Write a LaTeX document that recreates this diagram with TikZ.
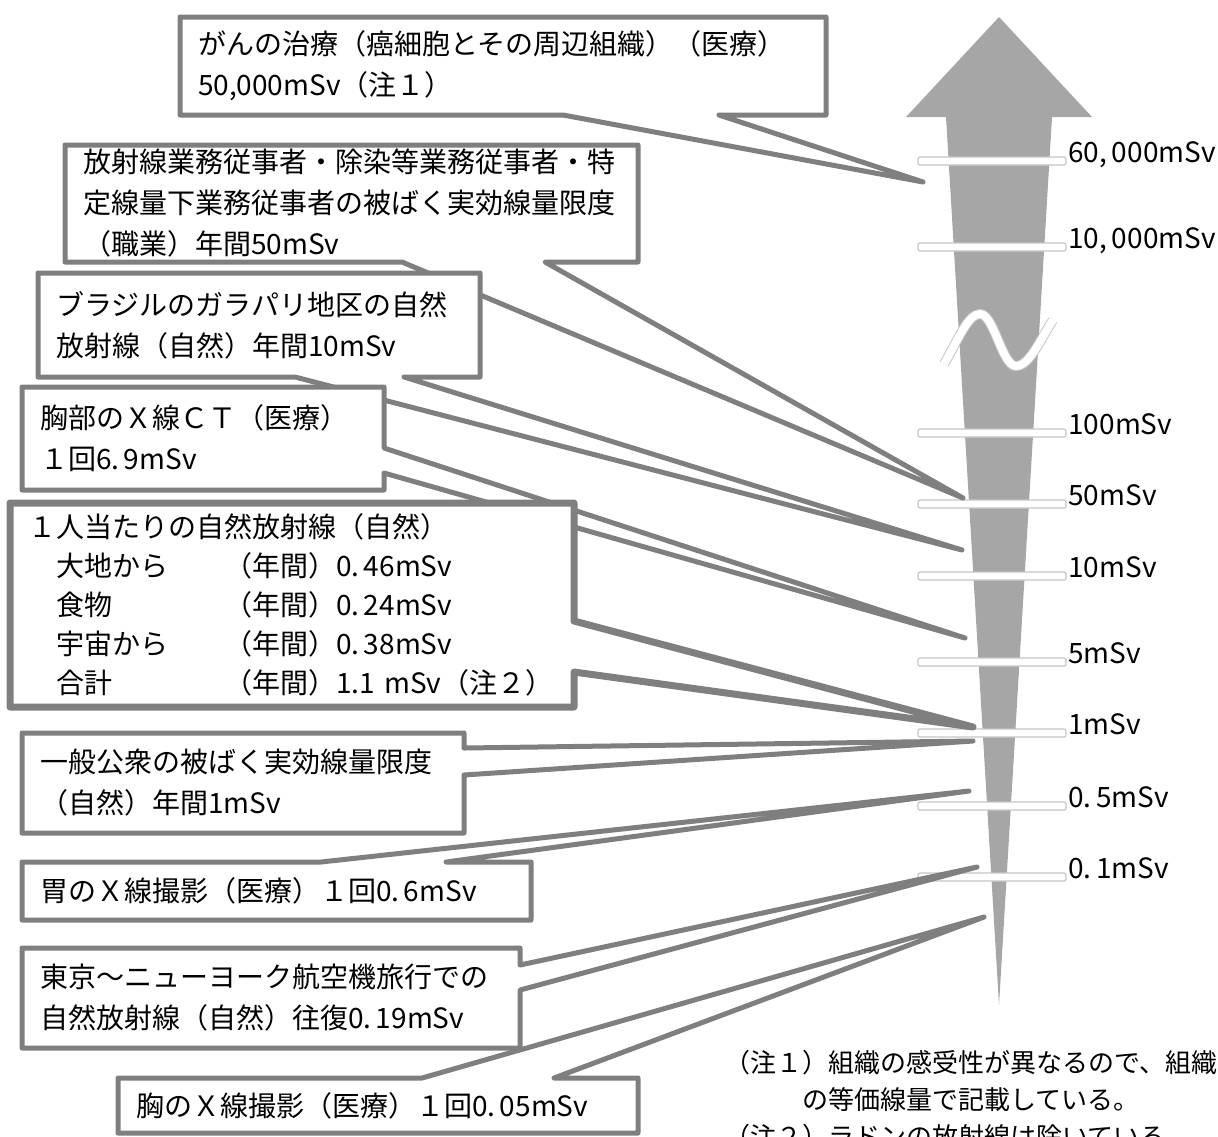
\documentclass[tikz,border=0pt]{standalone}
\usepackage{fontspec}
\setmainfont{Noto Sans CJK JP}
\usetikzlibrary{backgrounds}

\definecolor{linegray}{RGB}{127,127,127}
\definecolor{arrowgray}{RGB}{166,166,166}

\begin{document}
\begin{tikzpicture}[
	x=0.5pt, y=-0.5pt,
	box/.style = {anchor=north west, inner xsep=9pt, inner ysep=0pt,
		outer sep=0pt, align=left,
		font=\fontsize{14pt}{20.5pt}\selectfont},
	callout/.style = {draw=linegray, fill=white, line width=2.5pt,
		line join=round},
	tick/.style = {draw=gray!45, fill=white, line width=0.6pt,
		rounded corners=1pt},
	lbl/.style = {anchor=base west, inner sep=0pt,
		font=\fontsize{14pt}{16pt}\selectfont},
	note/.style = {anchor=north west, inner sep=0pt, align=left,
		font=\fontsize{13pt}{18.5pt}\selectfont},
	]
	\useasboundingbox (0,0) rectangle (1218,1136);
	
	\begin{scope}[on background layer]
	\fill[arrowgray] (999,17) -- (1092,117) -- (1052,117) -- (999,1005)
		-- (946,117) -- (906,117) -- cycle;
	\draw[gray!45, line width=0.5pt, double=white, double distance=4pt]
		(944,364) .. controls (958,340) and (968,314) .. (980,314)
		.. controls (994,314) and (1002,366) .. (1016,366)
		.. controls (1030,366) and (1042,336) .. (1053,320);
	\foreach \y/\t in {161/{60,\,000mSv}, 247/{10,\,000mSv}, 433/100mSv,
		504/50mSv, 576/10mSv, 662/5mSv, 733/1mSv, 806/{0.\,5mSv}, 877/{0.\,1mSv}}
	{
		\draw[tick] (918,\y-4) rectangle (1066,\y+4);
		\node[lbl] (mark-\y) at (1068,\y+1) {\t};
	}
	\end{scope}
	
	\node[box, text width=305pt, minimum height=49pt] (cancer) at (180,17)
		{がんの治療（癌細胞とその周辺組織）（医療）\\50,000mSv（注１）};
	\node[box, text width=268.5pt, minimum height=58.5pt] (worker) at (65,145)
		{放射線業務従事者・除染等業務従事者・特\\定線量下業務従事者の被ばく実効線量限度\\（職業）年間50mSv};
	\node[box, text width=203pt, minimum height=52pt] (brazil) at (38,273)
		{ブラジルのガラパリ地区の自然\\放射線（自然）年間10mSv};
	\node[box, text width=163pt, minimum height=51.5pt] (ct) at (22,387)
		{胸部のＸ線ＣＴ（医療）\\１回6.\,9mSv};
	\node[box, text width=264pt, minimum height=102pt,
		font=\fontsize{14pt}{19.5pt}\selectfont] (natural) at (10,503)
		{１人当たりの自然放射線（自然）\\
		　大地から　　（年間）0.\,46mSv\\
		　食物　　　　（年間）0.\,24mSv\\
		　宇宙から　　（年間）0.\,38mSv\\
		　合計　　　　（年間）1.1 mSv（注２）};
	\node[box, text width=203pt, minimum height=50pt] (public) at (22,733)
		{一般公衆の被ばく実効線量限度\\（自然）年間1mSv};
	\node[box, text width=236.5pt, minimum height=29pt] (stomach) at (22,862)
		{胃のＸ線撮影（医療）１回0.\,6mSv};
	\node[box, text width=231pt, minimum height=50pt] (flight) at (22,948)
		{東京〜ニューヨーク航空機旅行での\\自然放射線（自然）往復0.\,19mSv};
	\node[box, text width=242pt, minimum height=27.5pt] (chest) at (118,1078)
		{胸のＸ線撮影（医療）１回0.\,05mSv};
	
	\coordinate (cancer-tip) at (923,182);
	\coordinate (worker-tip) at (963,498);
	\coordinate (brazil-tip) at (962,550);
	\coordinate (ct-tip) at (965,638);
	\coordinate (natural-tip) at (973,727);
	\coordinate (public-tip) at (973,741);
	\coordinate (stomach-tip) at (969,791);
	\coordinate (flight-tip) at (977,867);
	\coordinate (chest-tip) at (984,917);
	
	\begin{scope}[on background layer]
	\draw[callout] (cancer.north west) -- (cancer.north east) -- (cancer.south east)
		-- (719,0 |- cancer.south) -- (cancer-tip) -- (563,0 |- cancer.south)
		-- (cancer.south west) -- cycle;
	\draw[callout] (worker.north west) -- (worker.north east) -- (worker.south east)
		-- (545,0 |- worker.south) -- (worker-tip) -- (402,0 |- worker.south)
		-- (worker.south west) -- cycle;
	\draw[callout] (brazil.north west) -- (brazil.north east) -- (brazil.south east)
		-- (404,0 |- brazil.south) -- (brazil-tip) -- (295,0 |- brazil.south)
		-- (brazil.south west) -- cycle;
	\draw[callout] (ct.north west) -- (ct.north east) -- (ct.east |- 0,448)
		-- (ct-tip) -- (ct.east |- 0,473) -- (ct.south east)
		-- (ct.south west) -- cycle;
	\draw[callout, line width=3.5pt] (natural.north west) -- (natural.north east)
		-- (natural.east |- 0,621) -- (natural-tip) -- (natural.east |- 0,672)
		-- (natural.south east) -- (natural.south west) -- cycle;
	\draw[callout] (public.north west) -- (public.north east) -- (public.east |- 0,748)
		-- (public-tip) -- (public.east |- 0,775) -- (public.south east)
		-- (public.south west) -- cycle;
	\draw[callout] (stomach.north west) -- (321,0 |- stomach.north) -- (stomach-tip)
		-- (446,0 |- stomach.north) -- (stomach.north east) -- (stomach.south east)
		-- (stomach.south west) -- cycle;
	\draw[callout] (flight.north west) -- (flight.north east) -- (flight.east |- 0,965)
		-- (flight-tip) -- (flight.east |- 0,990) -- (flight.south east)
		-- (flight.south west) -- cycle;
	\draw[callout] (chest.north west) -- (422,0 |- chest.north) -- (chest-tip)
		-- (554,0 |- chest.north) -- (chest.north east) -- (chest.south east)
		-- (chest.south west) -- cycle;
	\end{scope}
	
	% notes
	\node[note] (notes) at (724,1050)
		{（注１）組織の感受性が異なるので、組織\\　　　の等価線量で記載している。\\（注２）ラドンの放射線は除いている。};
\end{tikzpicture}
\end{document}
